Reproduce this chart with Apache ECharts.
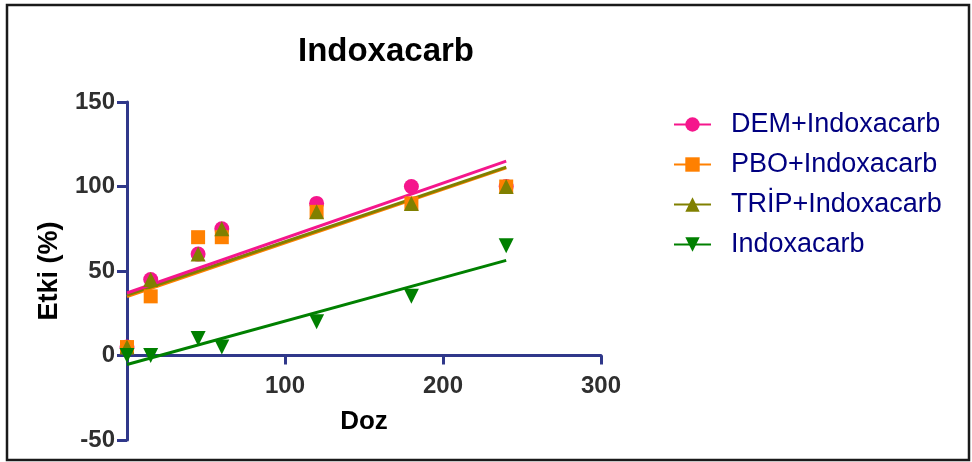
<!DOCTYPE html>
<html>
<head>
<meta charset="utf-8">
<script src="https://cdn.jsdelivr.net/npm/echarts@6/dist/echarts.min.js"></script>
<style>
html,body{margin:0;padding:0;background:#fff;}
#chart{width:972px;height:462px;}
</style>
</head>
<body>
<div id="chart"></div>
<script>
var doses = [0, 15, 45, 60, 120, 180, 240];
var demValues = [5, 45, 60, 75, 90, 100, 100];
var pboValues = [5, 35, 70, 70, 85, 90, 100];
var tripValues = [5, 45, 60, 75, 85, 90, 100];
var indValues = [0, 0, 10, 5, 20, 35, 65];
var fitX = [0, 240];
var demFit = [37, 115];
var pboFit = [34.8, 111];
var tripFit = [35.8, 111.5];
var indFit = [-5.3, 56.3];
var names = ['DEM+Indoxacarb', 'PBO+Indoxacarb', 'TRİP+Indoxacarb', 'Indoxacarb'];
var xTicks = { min: 0, max: 300, interval: 100 };
var yTicks = { min: -50, max: 150, interval: 50 };

function pairs(xs, ys) { return xs.map(function (x, i) { return [x, ys[i]]; }); }

var colors = ['#f5168c', '#ff8000', '#808000', '#008000'];
var symbols = ['circle', 'rect', 'triangle', 'triangle'];
var rotates = [0, 0, 0, 180];
var sizes = [15, 14, 15, 15];
var vals = [demValues, pboValues, tripValues, indValues];
var fits = [demFit, pboFit, tripFit, indFit];

var series = [];
var fitOrder = [1, 2, 0, 3];
fitOrder.forEach(function (i) {
  series.push({
    type: 'line', name: names[i], data: pairs(fitX, fits[i]),
    symbol: symbols[i], symbolRotate: rotates[i], symbolSize: sizes[i], showSymbol: false,
    lineStyle: { color: colors[i], width: 3 }, itemStyle: { color: colors[i] },
    z: 2, silent: true, animation: false
  });
});
[0, 1, 2, 3].forEach(function (i) {
  series.push({
    type: 'scatter', name: names[i], data: pairs(doses, vals[i]),
    symbol: symbols[i], symbolRotate: rotates[i], symbolSize: sizes[i],
    itemStyle: { color: colors[i], opacity: 1 }, z: 3 + i, animation: false
  });
});

var axisColor = '#30388a';
var font = 'Liberation Sans, Arial';
var chart = echarts.init(document.getElementById('chart'));
chart.setOption({
  animation: false,
  title: {
    text: 'Indoxacarb', left: 381, top: 30, textAlign: 'center',
    textStyle: { fontFamily: font, fontWeight: 'bold', fontSize: 33, color: '#000' }
  },
  grid: { left: 127, right: 371, top: 102, bottom: 22, containLabel: false, outerBoundsMode: 'none' },
  legend: {
    data: names, orient: 'vertical', left: 673, top: 111, padding: 0,
    itemWidth: 37, itemHeight: 18, itemGap: 13,
    textStyle: { fontFamily: font, fontSize: 27, color: '#000080', padding: [0, 0, 0, 15] }
  },
  xAxis: {
    type: 'value', min: xTicks.min, max: xTicks.max, interval: xTicks.interval,
    position: 'bottom', offset: -84.5,
    name: 'Doz', nameLocation: 'middle', nameGap: 53,
    nameTextStyle: { fontFamily: font, fontWeight: 'bold', fontSize: 26, color: '#000' },
    axisLine: { onZero: false, lineStyle: { color: axisColor, width: 3 } },
    axisTick: { show: true, inside: false, length: 9, lineStyle: { color: axisColor, width: 3 } },
    axisLabel: { showMinLabel: false, margin: 19, fontFamily: font, fontWeight: 'bold', fontSize: 24, color: '#2f2f2f' },
    splitLine: { show: false }
  },
  yAxis: {
    type: 'value', min: yTicks.min, max: yTicks.max, interval: yTicks.interval,
    name: 'Etki (%)', nameLocation: 'middle', nameGap: 64, nameRotate: 90,
    nameTextStyle: { fontFamily: font, fontWeight: 'bold', fontSize: 27, color: '#000' },
    axisLine: { show: true, onZero: false, lineStyle: { color: axisColor, width: 3 } },
    axisTick: { show: true, inside: false, length: 10, lineStyle: { color: axisColor, width: 3 } },
    axisLabel: { margin: 12, fontFamily: font, fontWeight: 'bold', fontSize: 24, color: '#2f2f2f' },
    splitLine: { show: false }
  },
  graphic: [{
    type: 'rect', shape: { x: 7, y: 5, width: 962, height: 455 },
    style: { fill: 'none', stroke: '#1a1a1a', lineWidth: 2.5 }, silent: true, z: 100
  }],
  series: series
});
</script>
</body>
</html>
